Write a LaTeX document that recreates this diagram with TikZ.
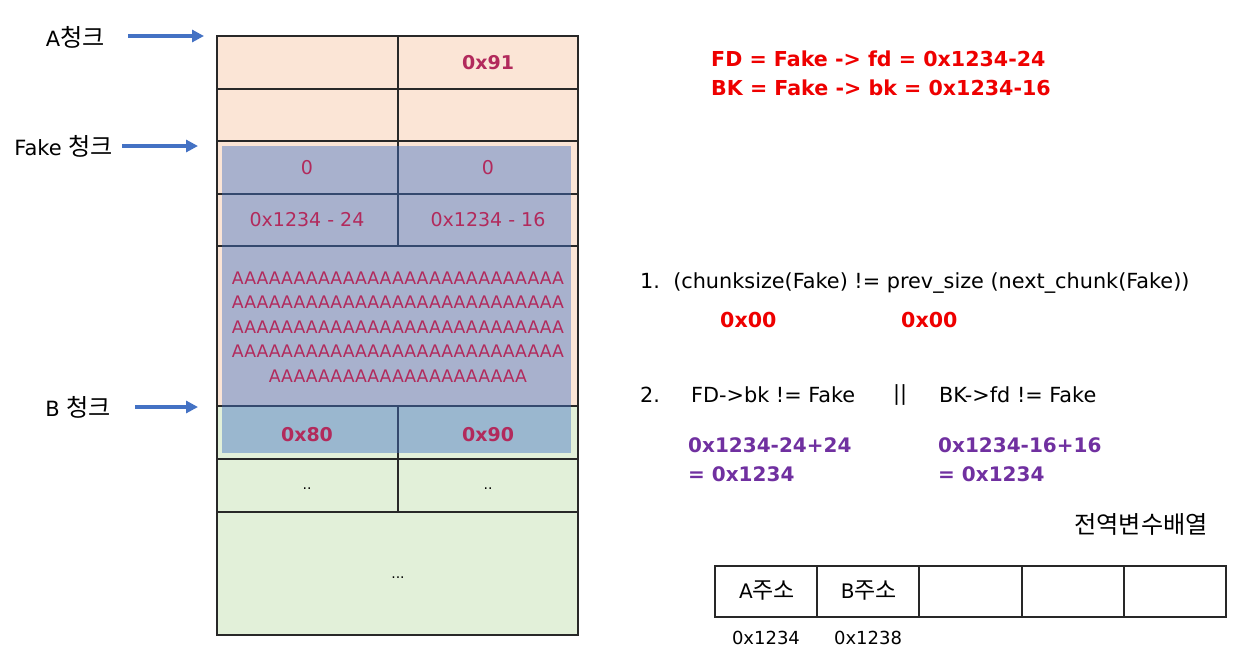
\documentclass[tikz,border=0pt]{standalone}
\usepackage{fontspec}
\setmainfont{DejaVu Sans}
\newfontfamily\kr[Scale=1.15]{Noto Sans CJK KR}
\usetikzlibrary{arrows.meta}
\definecolor{peach}{RGB}{251,229,214}
\definecolor{mint}{RGB}{226,240,217}
\definecolor{ovl}{RGB}{68,114,196}
\definecolor{crim}{RGB}{178,42,92}
\definecolor{redt}{RGB}{238,0,0}
\definecolor{purp}{RGB}{112,48,160}
\definecolor{arrblue}{RGB}{68,114,196}
\definecolor{gridc}{RGB}{40,40,40}
\tikzset{
  lbl/.style={inner sep=0pt, font=\fontsize{21}{25}\selectfont},
  ptr/.style={draw=arrblue, line width=3.2pt, -{Triangle[length=12pt,width=12pt]}},
  cell/.style={inner sep=0pt, text=crim, font=\fontsize{19}{23}\selectfont},
  cellb/.style={inner sep=0pt, text=crim, font=\fontsize{19}{23}\selectfont\bfseries},
  dots/.style={inner sep=0pt, text=black, font=\fontsize{14}{16}\selectfont},
  gridl/.style={draw=gridc, line width=1.4pt},
  redb/.style={inner sep=0pt, anchor=west, text=redt, font=\fontsize{20.6}{29}\selectfont\bfseries, align=left},
  purb/.style={inner sep=0pt, anchor=west, text=purp, font=\fontsize{20}{29}\selectfont\bfseries, align=left},
  plain/.style={inner sep=0pt, anchor=west, text=black, font=\fontsize{20.8}{25}\selectfont},
  arrc/.style={draw=gridc, line width=1.2pt},
}
\begin{document}
\begin{tikzpicture}[x=1pt,y=-1pt]
\useasboundingbox (0,0) rectangle (1240,654);
% heap table backgrounds
\fill[peach] (217,36) rectangle (578,406);
\fill[mint] (217,406) rectangle (578,635);
% grid
\draw[gridl] (217,36) rectangle (578,635);
\foreach \yy in {89,141,194,246,406,459,512} \draw[gridl] (217,\yy) -- (578,\yy);
\draw[gridl] (398,36) -- (398,246);
\draw[gridl] (398,406) -- (398,512);
% fake chunk overlay
\fill[ovl, opacity=0.45] (222,146) rectangle (571,453);
% cell texts
\node[cellb] (a91) at (488,63) {0x91};
\node[cell] (z1) at (307,168) {0};
\node[cell] (z2) at (488,168) {0};
\node[cell] (fd) at (307,220) {0x1234 - 24};
\node[cell] (bk) at (488,220) {0x1234 - 16};
\node[cell, align=center, font=\fontsize{17.3}{24.6}\selectfont] (aaa) at (398,327) {AAAAAAAAAAAAAAAAAAAAAAAAAAA\\AAAAAAAAAAAAAAAAAAAAAAAAAAA\\AAAAAAAAAAAAAAAAAAAAAAAAAAA\\AAAAAAAAAAAAAAAAAAAAAAAAAAA\\AAAAAAAAAAAAAAAAAAAAA};
\node[cellb] (b80) at (307,435) {0x80};
\node[cellb] (b90) at (488,435) {0x90};
\node[dots] (d1) at (307,489) {..};
\node[dots] (d2) at (488,489) {..};
\node[dots] (d3) at (398,578) {...};
% chunk labels and arrows
\node[lbl, anchor=east] (la) at (105,37) {A{\kr 청크}};
\node[lbl, anchor=east] (lf) at (113,146) {Fake {\kr 청크}};
\node[lbl, anchor=east] (lb) at (111,407) {B {\kr 청크}};
\coordinate (sa) at (128,36);
\coordinate (ta) at (204,36);
\coordinate (sf) at (122,146);
\coordinate (tf) at (198,146);
\coordinate (sb) at (135,407);
\coordinate (tb) at (198,407);
\draw[ptr] (sa) -- (ta);
\draw[ptr] (sf) -- (tf);
\draw[ptr] (sb) -- (tb);
% right texts
\node[redb] (fdbk) at (711,73) {FD = Fake -> fd = 0x1234-24\\BK = Fake -> bk = 0x1234-16};
\node[plain] (c1) at (640,283) {1.\ \ (chunksize(Fake) != prev\_size (next\_chunk(Fake))};
\node[redb] (z00a) at (720,320) {0x00};
\node[redb] (z00b) at (901,320) {0x00};
\node[plain] (c2n) at (640,395) {2.};
\node[plain] (c2a) at (691,395) {FD->bk != Fake};
\node[plain] (c2o) at (893,395) {||};
\node[plain] (c2b) at (939,395) {BK->fd != Fake};
\node[purb] (pa) at (688,460) {0x1234-24+24\\= 0x1234};
\node[purb] (pb) at (938,460) {0x1234-16+16\\= 0x1234};
% global array
\node[lbl, anchor=east] (garr) at (1208,524) {\kr 전역변수배열};
\draw[arrc] (715,566) rectangle (1226,617);
\foreach \xx in {817,919,1022,1124} \draw[arrc] (\xx,566) -- (\xx,617);
\node[lbl, font=\fontsize{20}{24}\selectfont] (aaddr) at (767,591) {A{\kr 주소}};
\node[lbl, font=\fontsize{20}{24}\selectfont] (baddr) at (869,591) {B{\kr 주소}};
\node[lbl, font=\fontsize{18}{20}\selectfont] (av) at (766,638) {0x1234};
\node[lbl, font=\fontsize{18}{20}\selectfont] (bv) at (868,638) {0x1238};
\end{tikzpicture}
\end{document}
